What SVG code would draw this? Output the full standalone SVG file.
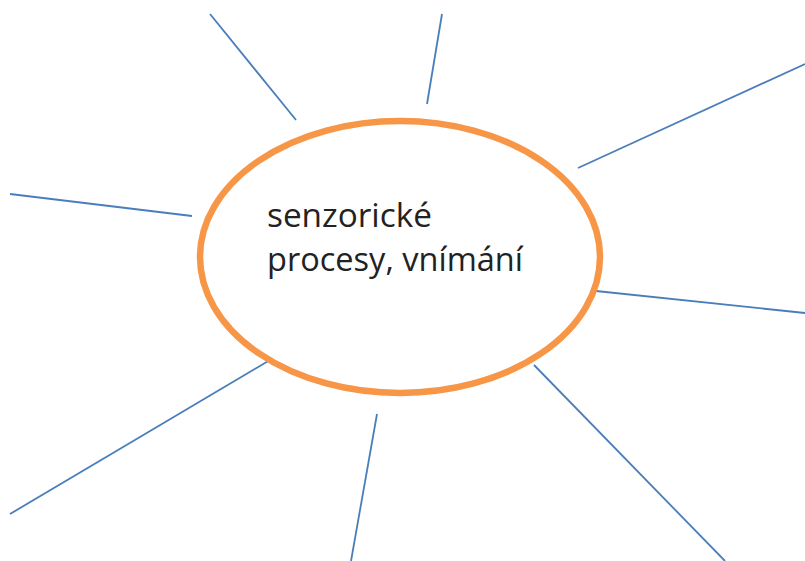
<svg xmlns="http://www.w3.org/2000/svg" width="805" height="561" viewBox="0 0 805 561">
<style>
.c{stroke:#4A7EBB;stroke-width:1.8;fill:none}
.t{font-family:"Open Sans","Liberation Sans",sans-serif;font-size:33px;fill:#222}
</style>
<rect width="805" height="561" fill="#fff"/>
<g id="connectors">
<line class="c" x1="210" y1="14" x2="296" y2="120"/>
<line class="c" x1="442" y1="14" x2="427" y2="104"/>
<line class="c" x1="805" y1="64" x2="578" y2="168"/>
<line class="c" x1="10" y1="194" x2="192" y2="216"/>
<line class="c" x1="596" y1="291" x2="805" y2="313"/>
<line class="c" x1="270" y1="360" x2="10" y2="514"/>
<line class="c" x1="377" y1="414" x2="351" y2="561"/>
<line class="c" x1="534" y1="365" x2="725" y2="561"/>
</g>
<g id="center">
<ellipse cx="400" cy="257" rx="200" ry="136" fill="none" stroke="#F79646" stroke-width="6.5"/>
<text class="t" x="267" y="227" textLength="165" lengthAdjust="spacingAndGlyphs">senzorické</text>
<text class="t" x="267" y="271" textLength="256" lengthAdjust="spacingAndGlyphs">procesy, vnímání</text>
</g>
</svg>
